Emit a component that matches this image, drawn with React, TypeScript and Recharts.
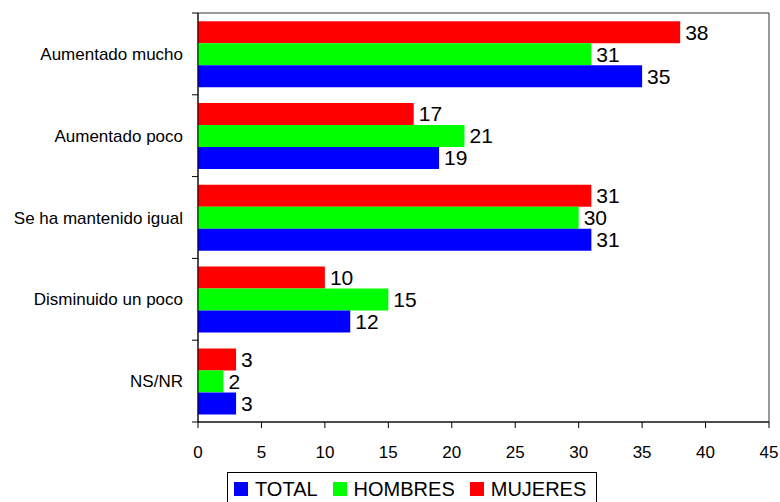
import { BarChart, Bar, XAxis, YAxis, LabelList, ReferenceArea } from "recharts";

if (typeof document !== "undefined") document.body.style.margin = "0";

const CATEGORIES = [
  "Aumentado mucho",
  "Aumentado poco",
  "Se ha mantenido igual",
  "Disminuido un poco",
  "NS/NR",
];
const TOTAL = [35, 19, 31, 12, 3];
const HOMBRES = [31, 21, 30, 15, 2];
const MUJERES = [38, 17, 31, 10, 3];
const X_TICKS = [0, 5, 10, 15, 20, 25, 30, 35, 40, 45];

const SERIES = [
  { key: "total", name: "TOTAL", color: "#0000ff" },
  { key: "hombres", name: "HOMBRES", color: "#00ff00" },
  { key: "mujeres", name: "MUJERES", color: "#ff0000" },
];

const data = CATEGORIES.map((c, i) => ({
  cat: c,
  total: TOTAL[i],
  hombres: HOMBRES[i],
  mujeres: MUJERES[i],
}));

const FONT = "'Liberation Sans', Arial, sans-serif";
const PLOT_TOP = 13;
const PLOT_H = 409;
const BAND = PLOT_H / CATEGORIES.length;

// category label plus a tick mark on the band boundary above it
function CatTick({ x, y, payload, index }: any) {
  return (
    <g>
      <line x1={x + 8} x2={x + 2} y1={y - BAND / 2} y2={y - BAND / 2} stroke="#000" />
      {index === CATEGORIES.length - 1 && (
        <line x1={x + 8} x2={x + 2} y1={y + BAND / 2} y2={y + BAND / 2} stroke="#000" />
      )}
      <text x={x - 7} y={y} dy={6} textAnchor="end" fontSize={17} fill="#000" fontFamily={FONT}>
        {payload.value}
      </text>
    </g>
  );
}

function LegendBox() {
  return (
    <div
      style={{
        position: "absolute",
        left: 227,
        top: 472,
        display: "flex",
        alignItems: "center",
        gap: 15,
        border: "1px solid #000",
        borderBottom: "none",
        padding: "3px 10px 0 6px",
        fontFamily: FONT,
        fontSize: 20,
        color: "#000",
        background: "#fff",
        height: 30,
        boxSizing: "border-box",
        whiteSpace: "nowrap",
      }}
    >
      {SERIES.map((s) => (
        <span key={s.key} style={{ display: "flex", alignItems: "center", gap: 7 }}>
          <span style={{ width: 14, height: 14, background: s.color, display: "inline-block" }} />
          {s.name}
        </span>
      ))}
    </div>
  );
}

export default function App() {
  // draw order top-to-bottom inside a group: MUJERES, HOMBRES, TOTAL
  const drawOrder = [SERIES[2], SERIES[1], SERIES[0]];
  return (
    <div style={{ width: 780, height: 502, background: "#fff", position: "relative", overflow: "hidden" }}>
      <BarChart
        width={780}
        height={502}
        data={data}
        layout="vertical"
        margin={{ top: PLOT_TOP, right: 11, left: 0, bottom: 0 }}
        barCategoryGap="10%"
        barGap={0}
      >
        <XAxis
          type="number"
          domain={[0, 45]}
          ticks={X_TICKS}
          interval={0}
          height={80}
          tick={{ fill: "#000", fontSize: 17, fontFamily: FONT }}
          tickLine={{ stroke: "#000" }}
          axisLine={{ stroke: "#000" }}
          tickSize={6}
          tickMargin={18}
        />
        <YAxis
          type="category"
          dataKey="cat"
          width={198}
          tick={<CatTick />}
          tickLine={false}
          axisLine={{ stroke: "#000" }}
          interval={0}
        />
        <ReferenceArea x1={0} x2={45} fill="none" stroke="#333" ifOverflow="visible" />
        {drawOrder.map((s) => (
          <Bar key={s.key} dataKey={s.key} name={s.name} fill={s.color} isAnimationActive={false}>
            <LabelList
              dataKey={s.key}
              position="right"
              offset={5}
              fill="#000"
              fontSize={21}
              fontFamily={FONT}
            />
          </Bar>
        ))}
      </BarChart>
      <LegendBox />
    </div>
  );
}
